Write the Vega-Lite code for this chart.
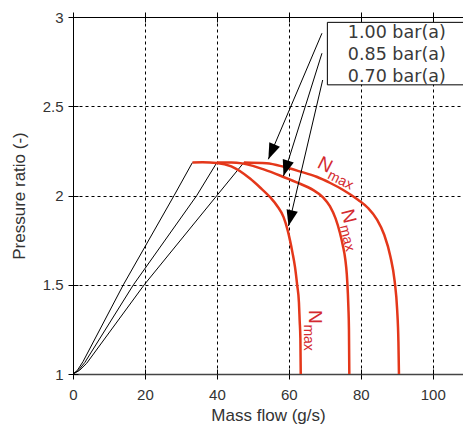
{
  "$schema": "https://vega.github.io/schema/vega-lite/v6.json",
  "autosize": {"type": "none"},
  "padding": {"left": 73, "top": 17, "right": 0, "bottom": 54},
  "width": 390,
  "height": 357,
  "background": "white",
  "config": {
    "view": {"stroke": null},
    "axis": {"labelFont": "Liberation Sans", "titleFont": "Liberation Sans", "labelColor": "#333", "titleColor": "#333", "titleFontWeight": "normal"}
  },
  "datasets": {
    "surge": [
      {"p": "a", "x": 0, "y": 1}, {"p": "a", "x": 1.2, "y": 1.02}, {"p": "a", "x": 2.8, "y": 1.07}, {"p": "a", "x": 14, "y": 1.5}, {"p": "a", "x": 28.1, "y": 2.0}, {"p": "a", "x": 33.2, "y": 2.185},
      {"p": "b", "x": 0, "y": 1}, {"p": "b", "x": 1.5, "y": 1.02}, {"p": "b", "x": 3.3, "y": 1.065}, {"p": "b", "x": 16.8, "y": 1.5}, {"p": "b", "x": 34.4, "y": 2.0}, {"p": "b", "x": 40.0, "y": 2.185},
      {"p": "c", "x": 0, "y": 1}, {"p": "c", "x": 1.8, "y": 1.02}, {"p": "c", "x": 3.8, "y": 1.06}, {"p": "c", "x": 19.8, "y": 1.5}, {"p": "c", "x": 40.0, "y": 2.0}, {"p": "c", "x": 47.5, "y": 2.185}
    ],
    "nmax": [
      {"p": "a", "x": 33.2, "y": 2.185}, {"p": "a", "x": 36, "y": 2.186}, {"p": "a", "x": 40, "y": 2.182}, {"p": "a", "x": 44, "y": 2.163}, {"p": "a", "x": 49.2, "y": 2.095}, {"p": "a", "x": 52, "y": 2.045}, {"p": "a", "x": 54.8, "y": 1.99}, {"p": "a", "x": 56.8, "y": 1.94}, {"p": "a", "x": 58.5, "y": 1.88}, {"p": "a", "x": 59.6, "y": 1.81}, {"p": "a", "x": 60.3, "y": 1.75}, {"p": "a", "x": 61, "y": 1.68}, {"p": "a", "x": 61.7, "y": 1.6}, {"p": "a", "x": 62.3, "y": 1.5}, {"p": "a", "x": 62.8, "y": 1.4}, {"p": "a", "x": 63.0, "y": 1.3}, {"p": "a", "x": 63.2, "y": 1.2}, {"p": "a", "x": 63.3, "y": 1.0},
      {"p": "b", "x": 40.0, "y": 2.185}, {"p": "b", "x": 44, "y": 2.185}, {"p": "b", "x": 47, "y": 2.18}, {"p": "b", "x": 50, "y": 2.166}, {"p": "b", "x": 53, "y": 2.146}, {"p": "b", "x": 57.5, "y": 2.112}, {"p": "b", "x": 62, "y": 2.075}, {"p": "b", "x": 66.8, "y": 2.03}, {"p": "b", "x": 69.5, "y": 1.99}, {"p": "b", "x": 71.4, "y": 1.94}, {"p": "b", "x": 73, "y": 1.87}, {"p": "b", "x": 74.2, "y": 1.79}, {"p": "b", "x": 75, "y": 1.72}, {"p": "b", "x": 75.7, "y": 1.64}, {"p": "b", "x": 76.1, "y": 1.56}, {"p": "b", "x": 76.4, "y": 1.45}, {"p": "b", "x": 76.55, "y": 1.37}, {"p": "b", "x": 76.7, "y": 1.25}, {"p": "b", "x": 76.8, "y": 1.0},
      {"p": "c", "x": 47.5, "y": 2.185}, {"p": "c", "x": 53.8, "y": 2.18}, {"p": "c", "x": 58.5, "y": 2.161}, {"p": "c", "x": 63, "y": 2.135}, {"p": "c", "x": 67.7, "y": 2.105}, {"p": "c", "x": 71.5, "y": 2.07}, {"p": "c", "x": 75.1, "y": 2.031}, {"p": "c", "x": 79.3, "y": 1.975}, {"p": "c", "x": 82, "y": 1.93}, {"p": "c", "x": 84.5, "y": 1.865}, {"p": "c", "x": 86.5, "y": 1.78}, {"p": "c", "x": 88.2, "y": 1.66}, {"p": "c", "x": 89.4, "y": 1.52}, {"p": "c", "x": 90.1, "y": 1.36}, {"p": "c", "x": 90.45, "y": 1.18}, {"p": "c", "x": 90.6, "y": 1.0}
    ],
    "arrows": [
      {"a": "1", "x": 69.2, "y": 2.909}, {"a": "1", "x": 54.3, "y": 2.203},
      {"a": "2", "x": 69.2, "y": 2.797}, {"a": "2", "x": 58.5, "y": 2.109},
      {"a": "3", "x": 69.4, "y": 2.647}, {"a": "3", "x": 59.9, "y": 1.829}
    ],
    "tips": [
      {"a": "1", "x": 54.3, "y": 2.203},
      {"a": "2", "x": 58.5, "y": 2.109},
      {"a": "3", "x": 59.9, "y": 1.829}
    ],
    "box": [{"x": 70.7, "x2": 115, "y": 2.97, "y2": 2.62}],
    "legend": [
      {"t": "1.00 bar(a)", "x": 90.0, "y": 2.881},
      {"t": "0.85 bar(a)", "x": 90.0, "y": 2.759},
      {"t": "0.70 bar(a)", "x": 90.0, "y": 2.638}
    ],
    "labels": [
      {"id": "1", "x": 67.6, "y": 2.16, "n": "N", "s": "max"},
      {"id": "2", "x": 74.5, "y": 1.913, "n": "N", "s": "max"},
      {"id": "3", "x": 65.5, "y": 1.359, "n": "N", "s": "max"}
    ]
  },
  "resolve": {"axis": {"x": "independent", "y": "independent"}},
  "layer": [
    {
      "data": {"name": "surge"},
      "mark": {"type": "line", "color": "black", "strokeWidth": 1, "clip": true},
      "encoding": {
        "x": {"field": "x", "type": "quantitative", "scale": {"domain": [0, 108.4], "nice": false, "zero": false},
          "axis": {"orient": "bottom", "values": [0, 20, 40, 60, 80, 100], "title": "Mass flow (g/s)", "titleFontSize": 17, "titlePadding": 5, "labelFontSize": 15, "labelPadding": 8, "labelFlush": false, "tickSize": 5, "tickColor": "black", "domainColor": "#444", "domainWidth": 1.5, "grid": true, "gridColor": "black", "gridDash": [3, 3], "gridOpacity": 1, "gridWidth": 1}},
        "y": {"field": "y", "type": "quantitative", "scale": {"domain": [1, 3], "nice": false, "zero": false},
          "axis": {"orient": "left", "values": [1, 1.5, 2, 2.5, 3], "format": "~g", "title": "Pressure ratio (-)", "titleFontSize": 17, "titlePadding": 14, "labelFontSize": 15, "labelPadding": 5, "labelFlush": false, "tickSize": 5, "tickColor": "black", "domainColor": "black", "grid": true, "gridColor": "black", "gridDash": [3, 3], "gridOpacity": 1, "gridWidth": 1}},
        "detail": {"field": "p"}
      }
    },
    {
      "data": {"name": "nmax"},
      "mark": {"type": "line", "color": "#e4371a", "strokeWidth": 2.5, "clip": true, "interpolate": "monotone"},
      "encoding": {
        "x": {"field": "x", "type": "quantitative", "axis": {"orient": "bottom", "values": [0, 20, 40, 60, 80, 100], "labels": false, "title": null, "domain": false, "grid": false, "tickSize": -5, "tickColor": "black"}},
        "y": {"field": "y", "type": "quantitative", "axis": {"orient": "left", "values": [1, 1.5, 2, 2.5, 3], "labels": false, "title": null, "domain": false, "grid": false, "tickSize": -5, "tickColor": "black"}},
        "detail": {"field": "p"}
      }
    },
    {
      "data": {"name": "box"},
      "mark": {"type": "rect", "fill": "white", "stroke": "black", "strokeWidth": 1, "clip": true},
      "encoding": {
        "x": {"field": "x", "type": "quantitative", "scale": {"domain": [0, 108.4], "nice": false, "zero": false}, "axis": {"orient": "top", "values": [0, 20, 40, 60, 80, 100], "labels": false, "title": null, "domain": true, "domainColor": "black", "grid": false, "tickSize": 5, "tickColor": "black"}},
        "x2": {"field": "x2"},
        "y": {"field": "y", "type": "quantitative", "axis": null},
        "y2": {"field": "y2"}
      }
    },
    {
      "data": {"name": "legend"},
      "mark": {"type": "text", "font": "DejaVu Sans", "fontSize": 17.5, "color": "#3a3a3a", "align": "center", "baseline": "alphabetic"},
      "encoding": {
        "x": {"field": "x", "type": "quantitative", "axis": {"orient": "top", "values": [0, 20, 40, 60, 80, 100], "labels": false, "title": null, "domain": false, "grid": false, "tickSize": -5, "tickColor": "black"}},
        "y": {"field": "y", "type": "quantitative", "axis": null},
        "text": {"field": "t"}
      }
    },
    {
      "data": {"name": "arrows"},
      "mark": {"type": "line", "color": "black", "strokeWidth": 1},
      "encoding": {
        "x": {"field": "x", "type": "quantitative", "axis": null},
        "y": {"field": "y", "type": "quantitative", "axis": null},
        "detail": {"field": "a"}
      }
    },
    {
      "data": {"name": "tips"},
      "transform": [{"filter": "datum.a === '1'"}],
      "mark": {"type": "point", "shape": "M0,0L-0.36,-1L0.36,-1Z", "size": 1024, "filled": true, "color": "black", "opacity": 1, "angle": 23},
      "encoding": {"x": {"field": "x", "type": "quantitative", "axis": null}, "y": {"field": "y", "type": "quantitative", "axis": null}}
    },
    {
      "data": {"name": "tips"},
      "transform": [{"filter": "datum.a === '2'"}],
      "mark": {"type": "point", "shape": "M0,0L-0.36,-1L0.36,-1Z", "size": 1024, "filled": true, "color": "black", "opacity": 1, "angle": 17.5},
      "encoding": {"x": {"field": "x", "type": "quantitative", "axis": null}, "y": {"field": "y", "type": "quantitative", "axis": null}}
    },
    {
      "data": {"name": "tips"},
      "transform": [{"filter": "datum.a === '3'"}],
      "mark": {"type": "point", "shape": "M0,0L-0.36,-1L0.36,-1Z", "size": 1024, "filled": true, "color": "black", "opacity": 1, "angle": 13.3},
      "encoding": {"x": {"field": "x", "type": "quantitative", "axis": null}, "y": {"field": "y", "type": "quantitative", "axis": null}}
    },
    {
      "data": {"name": "labels"},
      "transform": [{"filter": "datum.id === '1'"}],
      "mark": {"type": "text", "font": "Liberation Sans", "fontSize": 19, "color": "#d42a30", "align": "left", "baseline": "alphabetic", "angle": 27},
      "encoding": {"x": {"field": "x", "type": "quantitative", "axis": null}, "y": {"field": "y", "type": "quantitative", "axis": null}, "text": {"field": "n"}}
    },
    {
      "data": {"name": "labels"},
      "transform": [{"filter": "datum.id === '1'"}],
      "mark": {"type": "text", "font": "Liberation Sans", "fontSize": 14, "color": "#d42a30", "align": "left", "baseline": "alphabetic", "angle": 27, "dx": 14.5, "dy": 5},
      "encoding": {"x": {"field": "x", "type": "quantitative", "axis": null}, "y": {"field": "y", "type": "quantitative", "axis": null}, "text": {"field": "s"}}
    },
    {
      "data": {"name": "labels"},
      "transform": [{"filter": "datum.id === '2'"}],
      "mark": {"type": "text", "font": "Liberation Sans", "fontSize": 19, "color": "#d42a30", "align": "left", "baseline": "alphabetic", "angle": 76},
      "encoding": {"x": {"field": "x", "type": "quantitative", "axis": null}, "y": {"field": "y", "type": "quantitative", "axis": null}, "text": {"field": "n"}}
    },
    {
      "data": {"name": "labels"},
      "transform": [{"filter": "datum.id === '2'"}],
      "mark": {"type": "text", "font": "Liberation Sans", "fontSize": 14, "color": "#d42a30", "align": "left", "baseline": "alphabetic", "angle": 76, "dx": 14.5, "dy": 5},
      "encoding": {"x": {"field": "x", "type": "quantitative", "axis": null}, "y": {"field": "y", "type": "quantitative", "axis": null}, "text": {"field": "s"}}
    },
    {
      "data": {"name": "labels"},
      "transform": [{"filter": "datum.id === '3'"}],
      "mark": {"type": "text", "font": "Liberation Sans", "fontSize": 19, "color": "#d42a30", "align": "left", "baseline": "alphabetic", "angle": 90},
      "encoding": {"x": {"field": "x", "type": "quantitative", "axis": null}, "y": {"field": "y", "type": "quantitative", "axis": null}, "text": {"field": "n"}}
    },
    {
      "data": {"name": "labels"},
      "transform": [{"filter": "datum.id === '3'"}],
      "mark": {"type": "text", "font": "Liberation Sans", "fontSize": 14, "color": "#d42a30", "align": "left", "baseline": "alphabetic", "angle": 90, "dx": 14.5, "dy": 5},
      "encoding": {"x": {"field": "x", "type": "quantitative", "axis": null}, "y": {"field": "y", "type": "quantitative", "axis": null}, "text": {"field": "s"}}
    }
  ]
}
